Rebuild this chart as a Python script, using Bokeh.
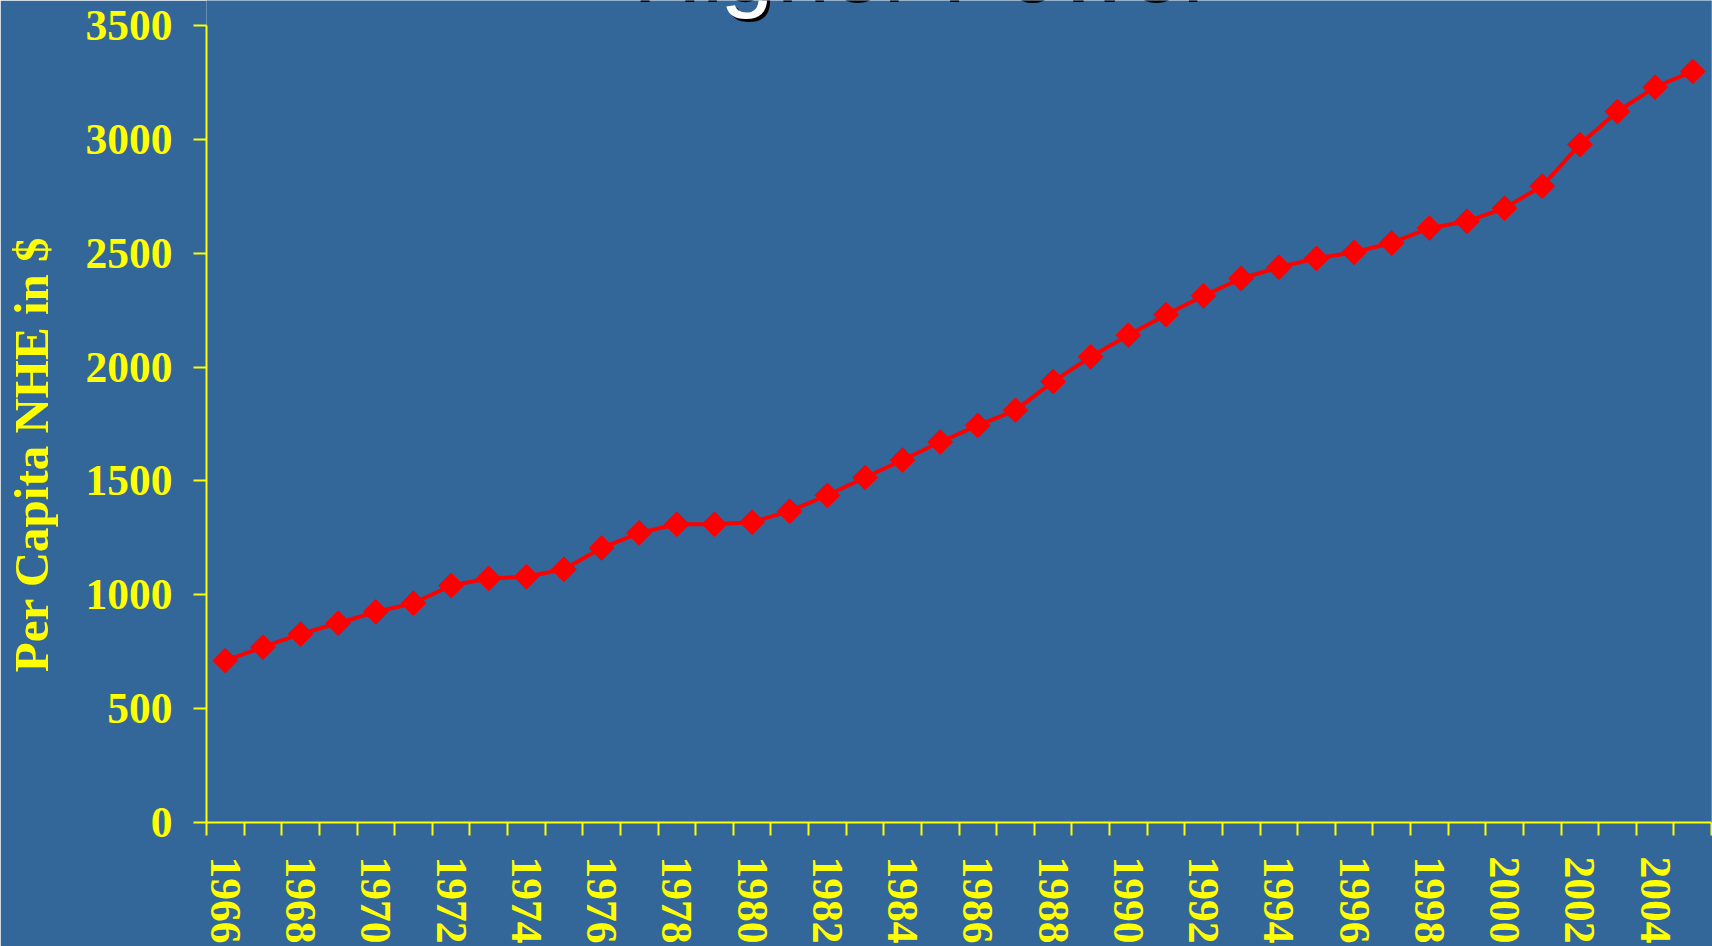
from math import pi
from bokeh.plotting import figure
from bokeh.models import Range1d, FixedTicker, Label
from bokeh.embed import file_html
from bokeh.resources import INLINE

# ---- data ----
years = [1966, 1967, 1968, 1969, 1970, 1971, 1972, 1973, 1974, 1975,
         1976, 1977, 1978, 1979, 1980, 1981, 1982, 1983, 1984, 1985,
         1986, 1987, 1988, 1989, 1990, 1991, 1992, 1993, 1994, 1995,
         1996, 1997, 1998, 1999, 2000, 2001, 2002, 2003, 2004, 2005]
nhe = [711, 770, 828, 875, 925, 963, 1041, 1072, 1079, 1112,
       1205, 1272, 1310, 1310, 1319, 1367, 1437, 1515, 1592, 1671,
       1744, 1810, 1936, 2045, 2140, 2230, 2313, 2389, 2438, 2477,
       2504, 2545, 2610, 2640, 2698, 2795, 2977, 3122, 3229, 3298]
y_ticks = [0, 500, 1000, 1500, 2000, 2500, 3000, 3500]
x_label_years = [1966, 1968, 1970, 1972, 1974, 1976, 1978, 1980, 1982, 1984,
                 1986, 1988, 1990, 1992, 1994, 1996, 1998, 2000, 2002, 2004]
title_text = "Higher Power"
y_title = "Per Capita NHE in $"

BG = "#336699"
YEL = "#FFFF00"
boundaries = [y - 0.5 for y in years] + [years[-1] + 0.5]

# the frame reaches the top edge so that the (mostly hidden) slide title can be drawn;
# the y axis itself is bounded to 0..3500
p = figure(width=1712, height=946, output_backend="svg", toolbar_location=None,
           x_range=Range1d(years[0] - 0.5, years[-1] + 0.5),
           y_range=Range1d(0, 3609.6),
           min_border_left=202, min_border_right=1, min_border_top=0,
           min_border_bottom=123,
           background_fill_color=BG, border_fill_color=BG,
           outline_line_color=None)
p.grid.visible = False

TICK_FONT = "43.5px"

xa = p.xaxis[0]
xa.ticker = FixedTicker(ticks=x_label_years, minor_ticks=boundaries)
xa.axis_line_color = YEL
xa.axis_line_width = 2
xa.major_tick_out = 0
xa.major_tick_in = 0
xa.minor_tick_out = 13
xa.minor_tick_in = 0
xa.minor_tick_line_color = YEL
xa.minor_tick_line_width = 2
xa.major_label_orientation = "vertical"
xa.major_label_standoff = 21
xa.major_label_text_color = YEL
xa.major_label_text_font = "Liberation Serif"
xa.major_label_text_font_style = "bold"
xa.major_label_text_font_size = TICK_FONT

ya = p.yaxis[0]
ya.ticker = FixedTicker(ticks=y_ticks)
ya.bounds = (y_ticks[0], y_ticks[-1])
ya.axis_line_color = YEL
ya.axis_line_width = 2
ya.major_tick_out = 13
ya.major_tick_in = 0
ya.major_tick_line_color = YEL
ya.major_tick_line_width = 2
ya.minor_tick_out = 0
ya.minor_tick_in = 0
ya.major_label_standoff = 21
ya.major_label_text_color = YEL
ya.major_label_text_font = "Liberation Serif"
ya.major_label_text_font_style = "bold"
ya.major_label_text_font_size = TICK_FONT
# trailing no-break spaces push the visible title below the frame centre
ya.axis_label = y_title + "\u00a0" * 7
ya.axis_label_standoff = 24
ya.axis_label_text_color = YEL
ya.axis_label_text_font = "Liberation Serif"
ya.axis_label_text_font_style = "bold"
ya.axis_label_text_font_size = "49px"

p.line(years, nhe, line_color="#FF0000", line_width=4)
p.scatter(years, nhe, marker="square", size=17.5, angle=pi / 4,
          fill_color="#FF0000", line_color="#FF0000")

# slide title, mostly above the visible area (screen units relative to frame)
p.add_layout(Label(x=717, y=854, x_units="screen", y_units="screen", text=title_text,
                   text_align="center", text_baseline="middle",
                   text_font="Liberation Sans", text_font_size="96px",
                   text_color="black"))
p.add_layout(Label(x=714, y=857, x_units="screen", y_units="screen", text=title_text,
                   text_align="center", text_baseline="middle",
                   text_font="Liberation Sans", text_font_size="96px",
                   text_color="white"))

open("out.html", "w").write(file_html(p, INLINE))
